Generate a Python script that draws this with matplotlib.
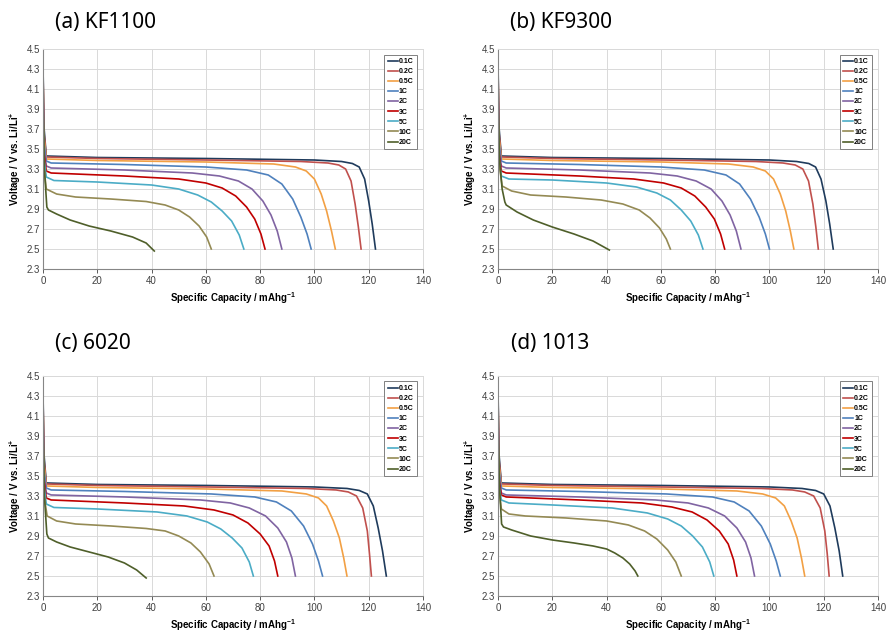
import matplotlib
matplotlib.use("Agg")
import matplotlib.pyplot as plt

# C-rates and colours shared by all four panels
rates = ["0.1C", "0.2C", "0.5C", "1C", "2C", "3C", "5C", "10C", "20C"]
colors = ["#1F3B5C", "#C0504D", "#F2A044", "#4F81BD", "#8064A2",
          "#C00000", "#4BACC6", "#948A54", "#4F5F2A"]
titles = ["(a) KF1100", "(b) KF9300", "(c) 6020", "(d) 1013"]

# voltage points (V), common plateau shape for the slow rates
v_01 = [4.30, 3.70, 3.43, 3.415, 3.405, 3.39, 3.375, 3.355, 3.32, 3.20, 2.98, 2.75, 2.50]
v_02 = [4.25, 3.65, 3.42, 3.405, 3.39, 3.375, 3.36, 3.34, 3.30, 3.18, 2.95, 2.72, 2.50]
v_05 = [4.20, 3.60, 3.40, 3.385, 3.37, 3.35, 3.32, 3.28, 3.20, 3.05, 2.88, 2.68, 2.50]
v_1 = [4.15, 3.55, 3.38, 3.36, 3.345, 3.32, 3.29, 3.24, 3.15, 3.00, 2.82, 2.65, 2.50]
v_2 = [4.10, 3.50, 3.33, 3.31, 3.29, 3.26, 3.23, 3.18, 3.10, 2.98, 2.84, 2.68, 2.50]
v_3 = [4.05, 3.45, 3.28, 3.26, 3.23, 3.20, 3.16, 3.11, 3.03, 2.92, 2.80, 2.65, 2.50]
v_5 = [4.00, 3.40, 3.22, 3.185, 3.17, 3.14, 3.10, 3.04, 2.97, 2.88, 2.78, 2.64, 2.50]

# (a) KF1100
kf1100_cap = [
    [0, 0.4, 1.2, 20, 60, 100, 110, 114, 116.5, 118.5, 120, 121.3, 122.5],
    [0, 0.4, 1.2, 20, 60, 95, 105, 109, 111.5, 113.5, 115, 116.2, 117.2],
    [0, 0.4, 1.2, 20, 60, 85, 93, 97, 100, 102.5, 104.5, 106.3, 107.7],
    [0, 0.4, 1.2, 3, 30, 60, 75, 83, 88, 92, 95, 97.3, 98.8],
    [0, 0.4, 1.2, 3, 30, 55, 65, 72, 77, 81, 84, 86.3, 88],
    [0, 0.4, 1.2, 3, 30, 50, 60, 66, 71, 75, 78, 80.3, 81.8],
    [0, 0.4, 1.2, 4, 20, 40, 50, 57, 62, 66, 69.5, 72.3, 74],
    [0, 0.4, 1.2, 5, 12, 25, 38, 45, 50, 54, 57.5, 60.3, 62],
    [0, 0.5, 1.4, 2, 5, 10, 17, 25, 33, 38, 41],
]
kf1100_volt = [
    v_01, v_02, v_05, v_1, v_2, v_3, v_5,
    [3.95, 3.30, 3.10, 3.05, 3.02, 3.00, 2.975, 2.94, 2.89, 2.82, 2.73, 2.62, 2.50],
    [3.95, 3.30, 2.92, 2.89, 2.85, 2.79, 2.73, 2.68, 2.62, 2.56, 2.48],
]

# (b) KF9300
kf9300_cap = [
    [0, 0.4, 1.2, 20, 60, 100, 110, 114.5, 117, 119, 120.8, 122.2, 123.5],
    [0, 0.4, 1.2, 20, 60, 95, 105, 109.5, 112.3, 114.4, 116, 117.1, 118],
    [0, 0.4, 1.2, 20, 60, 85, 94, 98.5, 101.5, 104, 106, 107.7, 109],
    [0, 0.4, 1.2, 3, 30, 60, 76, 84, 89, 93, 96.2, 98.5, 100],
    [0, 0.4, 1.2, 3, 30, 56, 66, 73, 78.5, 82.5, 85.5, 87.8, 89.5],
    [0, 0.4, 1.2, 3, 30, 50, 61, 67.5, 72.5, 76.5, 79.7, 82, 83.5],
    [0, 0.4, 1.2, 4, 20, 40, 51, 58.5, 63.5, 67.5, 71, 73.8, 75.5],
    [0, 0.4, 1.5, 5, 12, 25, 38, 46, 52, 56, 59.5, 62, 63.5],
    [0, 0.5, 1.5, 2.5, 3, 7, 13, 20, 28, 35, 41],
]
kf9300_volt = [
    v_01, v_02, v_05, v_1, v_2, v_3,
    [4.00, 3.40, 3.23, 3.20, 3.19, 3.16, 3.12, 3.06, 2.99, 2.89, 2.78, 2.64, 2.50],
    [3.95, 3.35, 3.13, 3.08, 3.04, 3.02, 2.99, 2.95, 2.89, 2.81, 2.71, 2.60, 2.50],
    [3.95, 3.40, 3.10, 2.97, 2.94, 2.87, 2.79, 2.72, 2.65, 2.58, 2.49],
]

# (c) 6020
c6020_cap = [
    [0, 0.4, 1.2, 20, 60, 100, 112, 116.5, 119.5, 121.7, 123.5, 125.1, 126.5],
    [0, 0.4, 1.2, 20, 60, 97, 108, 112.5, 115.5, 117.8, 119.5, 120.3, 121],
    [0, 0.4, 1.2, 20, 60, 88, 97, 101.5, 104.5, 107, 109.2, 110.8, 112],
    [0, 0.4, 1.2, 3, 30, 62, 78, 86, 91.5, 96, 99.3, 101.5, 103],
    [0, 0.4, 1.2, 3, 30, 58, 69, 76, 82, 86.5, 89.7, 91.7, 93],
    [0, 0.4, 1.2, 3, 30, 52, 63, 70, 75.5, 80, 83.3, 85.3, 86.5],
    [0, 0.4, 1.2, 4, 20, 42, 53, 60.5, 65.5, 69.7, 73.3, 76, 77.5],
    [0, 0.4, 1.5, 5, 12, 25, 38, 45, 50, 54.5, 58, 61.2, 63],
    [0, 0.5, 1.4, 2, 5, 10, 17, 24, 30, 34.5, 38],
]
c6020_volt = [
    v_01, v_02, v_05, v_1, v_2, v_3, v_5,
    [3.95, 3.30, 3.10, 3.05, 3.02, 3.00, 2.975, 2.95, 2.90, 2.83, 2.74, 2.62, 2.50],
    [3.95, 3.30, 2.92, 2.88, 2.84, 2.79, 2.74, 2.69, 2.63, 2.56, 2.48],
]

# (d) 1013
d1013_cap = [
    [0, 0.4, 1.2, 20, 60, 100, 112, 117, 120, 122.3, 124.1, 125.7, 127],
    [0, 0.4, 1.2, 20, 60, 97, 108.5, 113, 116.3, 118.7, 120.4, 121.3, 122],
    [0, 0.4, 1.2, 20, 60, 88, 97.5, 102.3, 105.5, 108, 110.2, 111.8, 113],
    [0, 0.4, 1.2, 3, 30, 62, 79, 87, 92.5, 97, 100.3, 102.5, 104],
    [0, 0.4, 1.2, 3, 30, 58, 70, 77.5, 83.5, 88, 91.2, 93.2, 94.5],
    [0, 0.4, 1.2, 3, 30, 53, 64, 71.5, 77, 81.5, 84.8, 86.8, 88],
    [0, 0.4, 1.2, 4, 20, 42, 55, 62.5, 67.5, 71.7, 75.3, 78, 79.5],
    [0, 0.4, 1.2, 4, 10, 25, 40, 48, 54, 58.5, 62.5, 65.5, 67.5],
    [0, 0.5, 1.3, 2, 5, 12, 20, 28, 35, 40, 43, 46, 48.5, 50.5, 51.5],
]
d1013_volt = [
    v_01, v_02, v_05, v_1, v_2,
    [4.05, 3.45, 3.31, 3.29, 3.26, 3.23, 3.19, 3.14, 3.06, 2.95, 2.82, 2.66, 2.50],
    [4.00, 3.40, 3.26, 3.23, 3.21, 3.18, 3.13, 3.07, 3.00, 2.90, 2.79, 2.64, 2.50],
    [3.95, 3.35, 3.17, 3.12, 3.10, 3.08, 3.05, 3.01, 2.95, 2.87, 2.76, 2.64, 2.50],
    [3.95, 3.40, 3.02, 2.99, 2.96, 2.90, 2.86, 2.83, 2.80, 2.77, 2.73, 2.68, 2.62, 2.55, 2.50],
]

panels = [
    (kf1100_cap, kf1100_volt),
    (kf9300_cap, kf9300_volt),
    (c6020_cap, c6020_volt),
    (d1013_cap, d1013_volt),
]

x_ticks = [0, 20, 40, 60, 80, 100, 120, 140]
y_ticks = [2.3, 2.5, 2.7, 2.9, 3.1, 3.3, 3.5, 3.7, 3.9, 4.1, 4.3, 4.5]

plt.rcParams["font.family"] = ["Liberation Sans", "DejaVu Sans"]
plt.rcParams["mathtext.fontset"] = "custom"
plt.rcParams["mathtext.rm"] = "Liberation Sans:bold"
plt.rcParams["mathtext.bf"] = "Liberation Sans:bold"
plt.rcParams["mathtext.default"] = "bf"

fig = plt.figure(figsize=(8.91, 6.36), dpi=100)

# axes boxes in figure fractions: left, bottom, width, height
boxes = [
    (0.0483, 0.577, 0.4264, 0.346),
    (0.559, 0.577, 0.4264, 0.346),
    (0.0483, 0.0629, 0.4264, 0.346),
    (0.559, 0.0629, 0.4264, 0.346),
]
title_pos = [(0.062, 0.965), (0.572, 0.965), (0.062, 0.46), (0.573, 0.46)]

for i, (cap, volt) in enumerate(panels):
    ax = fig.add_axes(boxes[i])
    for k in range(len(rates)):
        ax.plot(cap[k], volt[k], color=colors[k], linewidth=1.2,
                label=rates[k], solid_joinstyle="round")

    ax.set_xlim(0, 140)
    ax.set_ylim(2.3, 4.5)
    ax.set_xticks(x_ticks)
    ax.set_yticks(y_ticks)
    ax.set_yticklabels([f"{v:.1f}" for v in y_ticks])
    ax.grid(True, color="#D9D9D9", linewidth=0.7)
    ax.set_axisbelow(True)
    ax.tick_params(axis="both", labelsize=7, colors="#404040",
                   length=3, width=0.6, pad=2)
    ax.tick_params(axis="y", length=0)
    for side in ["top", "right"]:
        ax.spines[side].set_color("#D9D9D9")
        ax.spines[side].set_linewidth(0.7)
    for side in ["left", "bottom"]:
        ax.spines[side].set_color("#868686")
        ax.spines[side].set_linewidth(0.8)

    ax.set_xlabel("Specific Capacity / mAhg$^{-1}$", fontsize=7,
                  fontweight="bold", labelpad=3)
    ax.set_ylabel("Voltage / V vs. Li/Li$^{+}$", fontsize=7,
                  fontweight="bold", labelpad=3)

    leg = ax.legend(loc="upper right", prop={"weight": "bold", "size": 5},
                    handlelength=1.5, handletextpad=0.1, labelspacing=0.45,
                    borderaxespad=0.8, borderpad=0.5, fancybox=False,
                    framealpha=1)
    leg.get_frame().set_edgecolor("#808080")
    leg.get_frame().set_linewidth(0.7)

    fig.text(title_pos[i][0], title_pos[i][1], titles[i], fontsize=15,
             family=["Noto Sans", "DejaVu Sans"], va="center", ha="left")

fig.savefig("out.png", dpi=100)
